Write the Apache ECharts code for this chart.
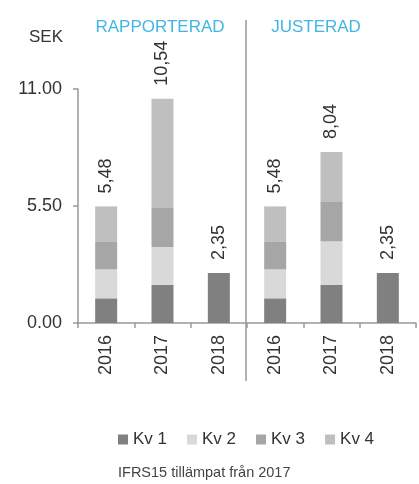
<!DOCTYPE html>
<html><head><meta charset="utf-8">
<script src="https://cdn.jsdelivr.net/npm/echarts@6/dist/echarts.min.js"></script>
<style>html,body{margin:0;padding:0;background:#fff}#c{width:419px;height:484px}</style>
</head><body><div id="c"></div>
<script>
var categories = ['2016','2017','2018','2016','2017','2018'];
var kv1 = [1.16, 1.79, 2.35, 1.16, 1.79, 2.35];
var kv2 = [1.36, 1.78, 0, 1.36, 2.05, 0];
var kv3 = [1.29, 1.84, 0, 1.29, 1.85, 0];
var kv4 = [1.67, 5.13, 0, 1.67, 2.35, 0];
var totals = ['5,48', '10,54', '2,35', '5,48', '8,04', '2,35'];
var seriesNames = ['Kv 1','Kv 2','Kv 3','Kv 4'];
var colors = ['#808080','#d9d9d9','#a6a6a6','#bfbfbf'];
var yTicks = [0, 5.5, 11];

var FONT = 'Liberation Sans';
var TXT = '#333333';
var all = [kv1, kv2, kv3, kv4];
var series = all.map(function(arr, si){
  return {
    name: seriesNames[si], type: 'bar', stack: 'a', barWidth: 22,
    itemStyle: {color: colors[si]},
    data: arr.map(function(v, ci){
      var top = -1;
      for (var k = 0; k < all.length; k++) if (all[k][ci] > 0) top = k;
      var item = {value: v};
      if (top === si) {
        item.label = {show: true, position: 'top', rotate: 90, distance: 13,
          align: 'left', verticalAlign: 'middle',
          formatter: totals[ci], fontSize: 18, color: TXT, fontFamily: FONT};
      }
      return item;
    })
  };
});

var chart = echarts.init(document.getElementById('c'));
chart.setOption({
  animation: false,
  grid: {left: 78, right: 3, top: 89, bottom: 161},
  title: [
    {text: 'RAPPORTERAD', left: 160, top: 19, textAlign: 'center', padding: 0,
     textStyle: {color: '#41b6e6', fontSize: 17, fontWeight: 'normal', fontFamily: FONT}},
    {text: 'JUSTERAD', left: 316, top: 19, textAlign: 'center', padding: 0,
     textStyle: {color: '#41b6e6', fontSize: 17, fontWeight: 'normal', fontFamily: FONT}},
    {text: 'SEK', left: 29, top: 29, padding: 0,
     textStyle: {color: TXT, fontSize: 17, fontWeight: 'normal', fontFamily: FONT}},
    {text: 'IFRS15 tillämpat från 2017', left: 118, top: 465, padding: 0,
     textStyle: {color: '#444', fontSize: 14.5, fontWeight: 'normal', fontFamily: FONT}}
  ],
  legend: {
    data: seriesNames, left: 118, top: 431, padding: 0, itemWidth: 10, itemHeight: 10, itemGap: 20,
    icon: 'rect', textStyle: {fontSize: 17, color: TXT, fontFamily: FONT}
  },
  xAxis: {
    type: 'category', data: categories,
    axisLine: {lineStyle: {color: '#999', width: 1.5}},
    axisTick: {show: true, interval: 0, length: 5, lineStyle: {color: '#999', width: 1.5}},
    axisLabel: {rotate: 90, margin: 12, fontSize: 18, color: TXT, fontFamily: FONT, interval: 0}
  },
  yAxis: {
    type: 'value', min: yTicks[0], max: yTicks[2], interval: yTicks[1],
    splitLine: {show: false},
    axisLine: {show: true, lineStyle: {color: '#999', width: 1.5}},
    axisTick: {show: true, length: 5, lineStyle: {color: '#999', width: 1.5}},
    axisLabel: {fontSize: 18, color: TXT, margin: 16, fontFamily: FONT,
      formatter: function(v){ return v.toFixed(2); }}
  },
  graphic: [{type: 'line', shape: {x1: 246, y1: 20, x2: 246, y2: 381},
    style: {stroke: '#999', lineWidth: 1.5}}],
  series: series
});
</script></body></html>
